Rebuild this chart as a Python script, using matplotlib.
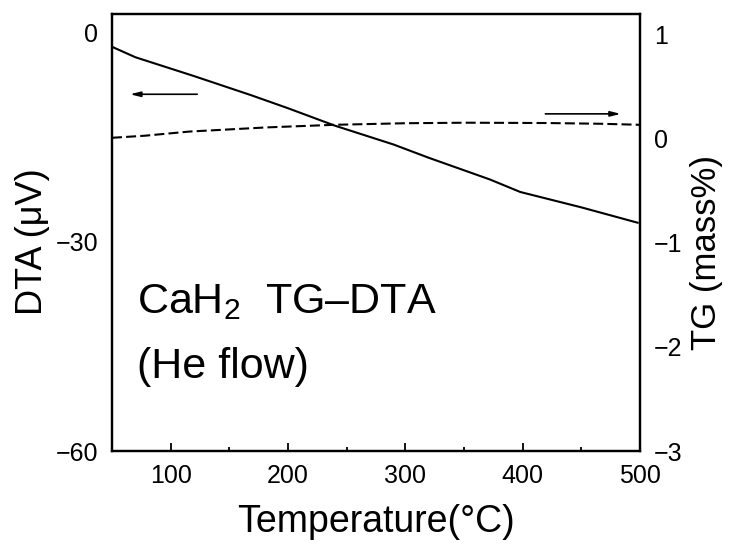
import matplotlib
matplotlib.use('Agg')
import matplotlib.pyplot as plt

plt.rcParams['font.family'] = ['Liberation Sans', 'DejaVu Sans']
plt.rcParams['mathtext.fontset'] = 'custom'
plt.rcParams['mathtext.rm'] = 'Liberation Sans'

# DTA 曲线 (温度 °C, μV)
T_dta = [50, 70, 120, 168, 200, 240, 290, 320, 372, 398, 450, 498]
dta = [-2.1, -3.6, -6.3, -9.0, -10.9, -13.4, -16.1, -18.0, -21.1, -22.9, -25.1, -27.3]
# TG 曲线 (温度 °C, mass%)
T_tg = [50, 78, 116, 182, 240, 300, 352, 420, 466, 500]
tg = [0.01, 0.03, 0.07, 0.11, 0.135, 0.15, 0.155, 0.152, 0.145, 0.135]

fig = plt.figure(figsize=(7.29, 5.48), dpi=100)
ax = fig.add_axes([0.1536, 0.177, 0.7243, 0.7975])
ax2 = ax.twinx()

ax.plot(T_dta, dta, color='k', lw=1.5)
ax2.plot(T_tg, tg, color='k', lw=1.5, linestyle=(0, (4.8, 2.0)))

ax.set_xlim(50, 500)
ax.set_ylim(-60, 2.6)
ax2.set_ylim(-3, 1.2)
ax.set_xticks([100, 200, 300, 400, 500])
ax.set_xticks([150, 250, 350, 450], minor=True)
ax.set_yticks([-60, -30, 0])
ax2.set_yticks([-3, -2, -1, 0, 1])
ax.set_yticklabels(['\u221260', '\u221230', '0'])
ax2.set_yticklabels(['\u22123', '\u22122', '\u22121', '0', '1'])

ax.tick_params(axis='x', which='major', direction='in', length=6, width=1.3, labelsize=18, pad=9)
ax.tick_params(axis='x', which='minor', direction='in', length=3, width=1.3)
ax.tick_params(axis='y', length=0, labelsize=18, pad=10)
ax2.tick_params(axis='y', length=0, labelsize=18, pad=10)

for a in (ax, ax2):
    for s in a.spines.values():
        s.set_linewidth(1.6)

ax.set_xlabel('Temperature(\u00b0C)', fontsize=27, labelpad=12)
ax.set_ylabel('DTA (\u03bcV)', fontsize=26)
ax2.set_ylabel('TG (mass%)', fontsize=25)
ax.yaxis.set_label_coords(-0.117, 0.478)
ax2.yaxis.set_label_coords(1.095, 0.455)

# 坐标轴指示箭头
ax.annotate('', xy=(63, -8.9), xytext=(125, -8.9),
            arrowprops=dict(arrowstyle='-|>,head_length=0.6,head_width=0.15', color='k', lw=1.2))
ax2.annotate('', xy=(486, 0.24), xytext=(417, 0.24),
             arrowprops=dict(arrowstyle='-|>,head_length=0.6,head_width=0.15', color='k', lw=1.2))

ax.text(0.047, 0.316, 'CaH$_\\mathrm{2}$  TG\u2013DTA', transform=ax.transAxes,
        fontsize=31, va='baseline', ha='left')
ax.text(0.047, 0.167, '(He flow)', transform=ax.transAxes,
        fontsize=31, va='baseline', ha='left')

fig.savefig('out.png', dpi=100)
